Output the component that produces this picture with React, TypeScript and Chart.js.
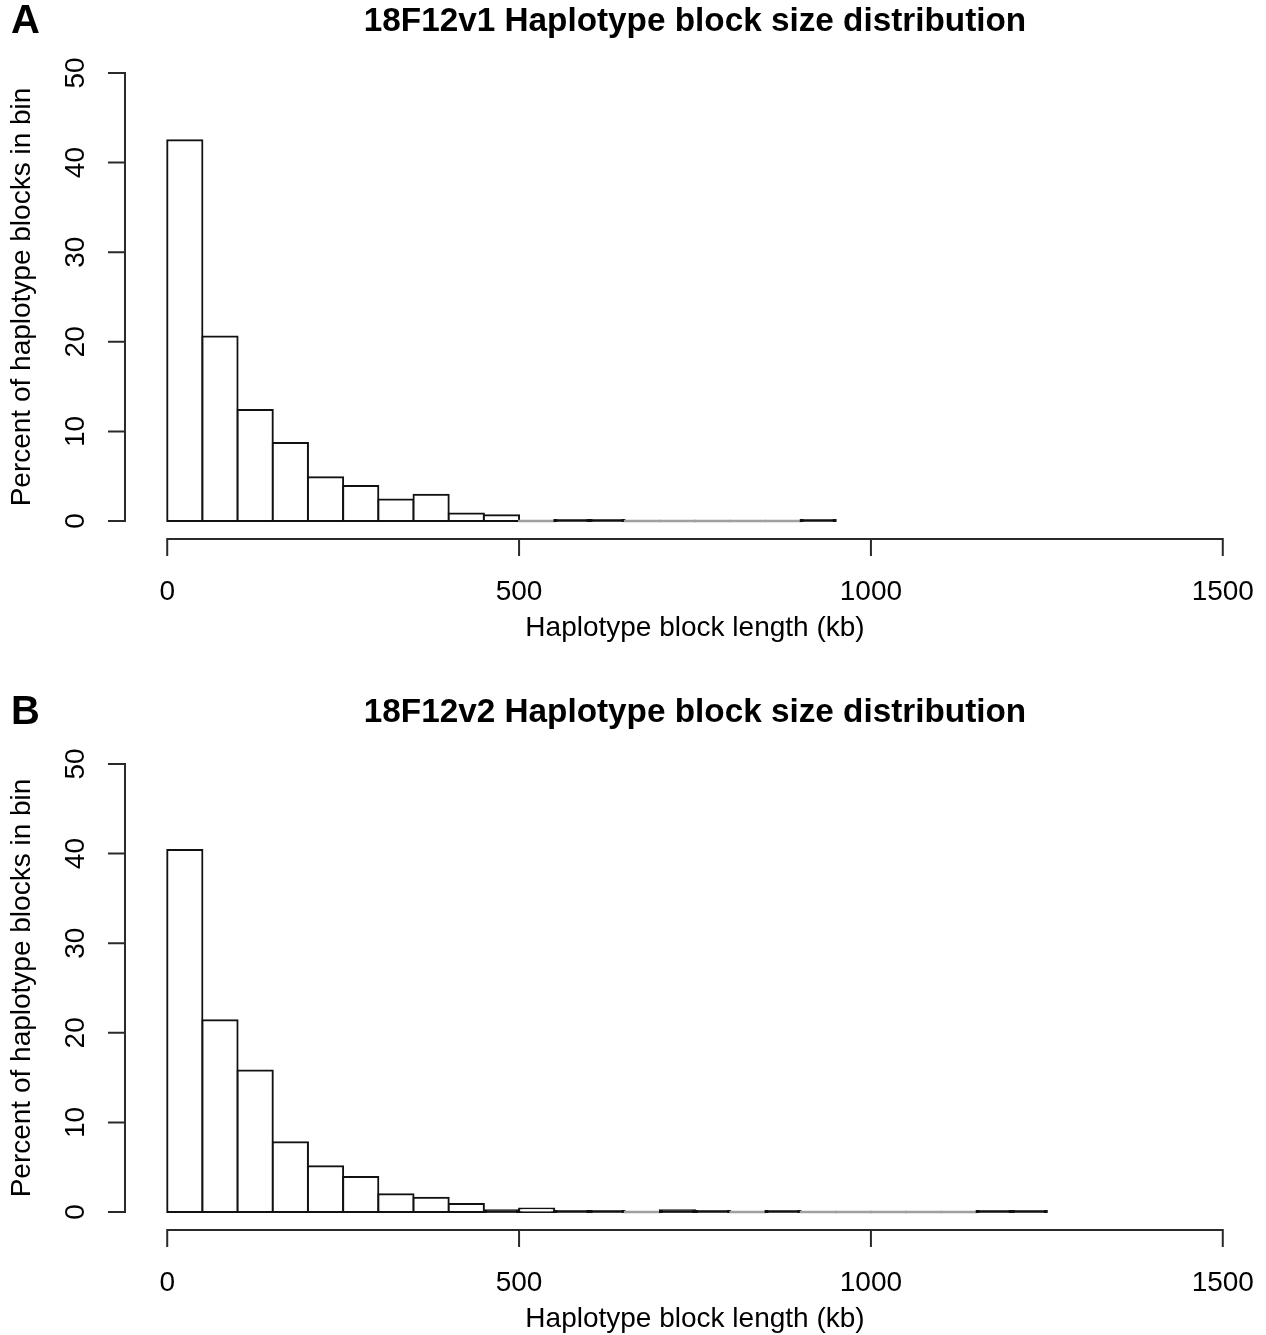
import React, { useEffect, useRef } from "react";
import { Chart, registerables } from "chart.js";

Chart.register(...registerables);

// ---- Data ----
const BIN_WIDTH_KB = 50;

const BIN_STARTS_A = [0, 50, 100, 150, 200, 250, 300, 350, 400, 450, 500, 550, 600, 650, 700, 750, 800, 850, 900];
const PERCENT_A = [42.5, 20.6, 12.4, 8.7, 4.9, 3.9, 2.4, 2.95, 0.85, 0.65, 0, 0.1, 0.1, 0, 0, 0, 0, 0, 0.1];

const BIN_STARTS_B = [0, 50, 100, 150, 200, 250, 300, 350, 400, 450, 500, 550, 600, 650, 700, 750, 800, 850, 900, 950, 1000, 1050, 1100, 1150, 1200];
const PERCENT_B = [40.4, 21.4, 15.8, 7.8, 5.1, 3.9, 2.0, 1.6, 0.9, 0.2, 0.4, 0.1, 0.1, 0, 0.2, 0.1, 0, 0.1, 0, 0, 0, 0, 0, 0.1, 0.1];

const X_TICKS = [0, 500, 1000, 1500];
const Y_TICKS = [0, 10, 20, 30, 40, 50];

const TITLE_A = "18F12v1 Haplotype block size distribution";
const TITLE_B = "18F12v2 Haplotype block size distribution";
const X_TITLE = "Haplotype block length (kb)";
const Y_TITLE = "Percent of haplotype blocks in bin";

const FONT = '"Liberation Sans", Arial, Helvetica, sans-serif';
const W = 1266;

type PanelProps = {
  top: number;
  height: number;
  letter: string;
  title: string;
  starts: number[];
  values: number[];
};

const rAxesPlugin = {
  id: "rAxes",
  afterDraw(chart: any, _args: any, opts: any) {
    const ctx = chart.ctx as CanvasRenderingContext2D;
    const xs = chart.scales.x;
    const ys = chart.scales.y;
    const ca = chart.chartArea;
    const tickLen = 17;
    ctx.save();
    ctx.strokeStyle = "#2a2a2a";
    ctx.lineWidth = 2;
    ctx.lineCap = "butt";
    ctx.fillStyle = "#000";

    // y axis
    const yAxisX = ca.left;
    const y0 = ys.getPixelForValue(Y_TICKS[0]);
    const y1 = ys.getPixelForValue(Y_TICKS[Y_TICKS.length - 1]);
    ctx.beginPath();
    ctx.moveTo(yAxisX, y0 + 1);
    ctx.lineTo(yAxisX, y1 - 1);
    Y_TICKS.forEach((t) => {
      const py = ys.getPixelForValue(t);
      ctx.moveTo(yAxisX + 1, py);
      ctx.lineTo(yAxisX - tickLen, py);
    });
    ctx.stroke();

    ctx.font = `28px ${FONT}`;
    ctx.textAlign = "center";
    ctx.textBaseline = "middle";
    Y_TICKS.forEach((t) => {
      const py = ys.getPixelForValue(t);
      ctx.save();
      ctx.translate(yAxisX - 49, py);
      ctx.rotate(-Math.PI / 2);
      ctx.fillText(String(t), 0, 0);
      ctx.restore();
    });

    // x axis
    const xAxisY = ca.bottom;
    const x0 = xs.getPixelForValue(X_TICKS[0]);
    const x1 = xs.getPixelForValue(X_TICKS[X_TICKS.length - 1]);
    ctx.beginPath();
    ctx.moveTo(x0 - 1, xAxisY);
    ctx.lineTo(x1 + 1, xAxisY);
    X_TICKS.forEach((t) => {
      const px = xs.getPixelForValue(t);
      ctx.moveTo(px, xAxisY - 1);
      ctx.lineTo(px, xAxisY + tickLen);
    });
    ctx.stroke();

    X_TICKS.forEach((t) => {
      const px = xs.getPixelForValue(t);
      ctx.fillText(String(t), px, xAxisY + 53);
    });

    // axis titles
    const cx = (ca.left + ca.right) / 2;
    ctx.fillText(X_TITLE, cx, xAxisY + 89);
    ctx.save();
    ctx.translate(22, (ca.top + ca.bottom) / 2);
    ctx.rotate(-Math.PI / 2);
    ctx.fillText(Y_TITLE, 0, 0);
    ctx.restore();

    // main title
    ctx.font = `bold 33.3px ${FONT}`;
    ctx.fillText(opts.title, cx, 22);

    // panel letter
    ctx.font = `bold 40px ${FONT}`;
    ctx.textAlign = "left";
    ctx.fillText(opts.letter, 11, 22);

    ctx.restore();
  },
};

function Panel({ top, height, letter, title, starts, values }: PanelProps) {
  const ref = useRef<HTMLCanvasElement | null>(null);

  useEffect(() => {
    if (!ref.current) return;
    const tinyColor = (c: any, zeroCol: string, tinyCol: string, normalCol: string) => {
      const v = c.raw ? c.raw.y : 1;
      if (v === 0) return zeroCol;
      if (v < 0.3) return tinyCol;
      return normalCol;
    };
    const chart = new Chart(ref.current, {
      type: "bar",
      data: {
        datasets: [
          {
            data: starts.map((s, i) => ({ x: s + BIN_WIDTH_KB / 2, y: values[i] })),
            backgroundColor: (c: any) => tinyColor(c, "#a0a0a0", "#111111", "#ffffff"),
            borderColor: (c: any) => tinyColor(c, "#a0a0a0", "#111111", "#111111"),
            borderWidth: 2,
            borderSkipped: false,
            inflateAmount: 1,
            minBarLength: 1,
            barPercentage: 1,
            categoryPercentage: 1,
          } as any,
        ],
      },
      options: {
        responsive: false,
        animation: false,
        layout: { padding: { left: 125, right: 1, top: 55, bottom: height - 539 } },
        scales: {
          x: { type: "linear", min: -60, max: 1560, offset: false, display: false },
          y: { type: "linear", min: -2, max: 52, display: false },
        },
        plugins: {
          legend: { display: false },
          tooltip: { enabled: false },
          rAxes: { title, letter },
        } as any,
      },
      plugins: [rAxesPlugin],
    });
    return () => chart.destroy();
  }, [height, letter, title, starts, values]);

  return (
    <canvas
      ref={ref}
      width={W}
      height={height}
      style={{ position: "absolute", left: 0, top, width: W, height, display: "block" }}
    />
  );
}

export default function App() {
  return (
    <div
      style={{
        position: "fixed",
        left: 0,
        top: 0,
        width: W,
        height: 1335,
        background: "#fff",
        overflow: "hidden",
      }}
    >
      <Panel top={0} height={667} letter="A" title={TITLE_A} starts={BIN_STARTS_A} values={PERCENT_A} />
      <Panel top={691} height={644} letter="B" title={TITLE_B} starts={BIN_STARTS_B} values={PERCENT_B} />
    </div>
  );
}
